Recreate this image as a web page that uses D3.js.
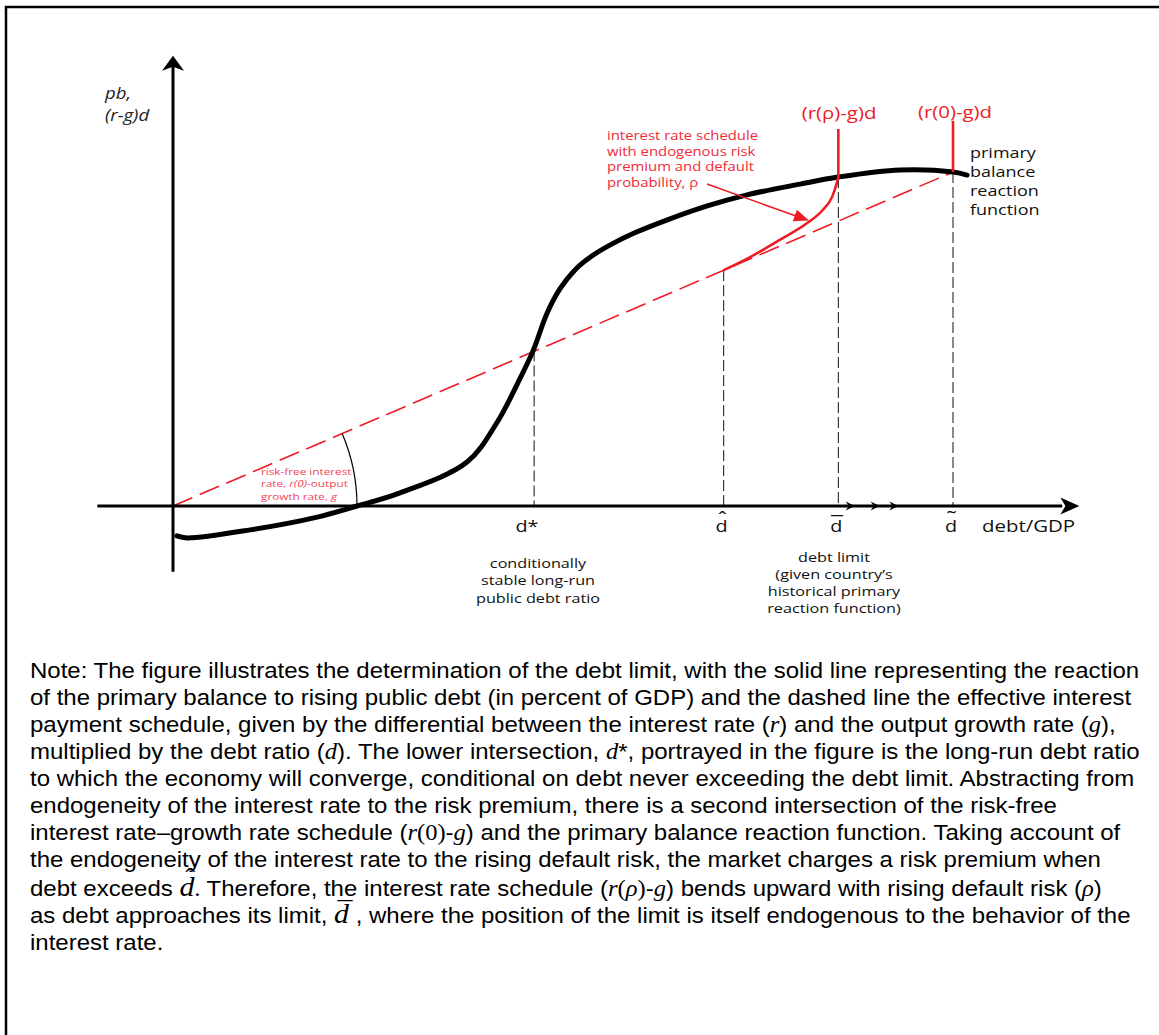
<!DOCTYPE html>
<html>
<head>
<meta charset="UTF-8">
<title>Debt limit</title>
<script src="https://cdn.jsdelivr.net/npm/d3@7/dist/d3.min.js"></script>
<style type="text/css">
body { margin: 0; background: #fff; }
svg { display: block; }
.lbl { font-family: "Open Sans", "Noto Sans", sans-serif; }
.note { font-family: "Liberation Sans", Arial, sans-serif; font-size: 22.5px; fill: #000; }
</style>
</head>
<body>
<div class="scalingContainer"></div>
<script>
// debt/GDP ratios marked on the axis (d~ = 100), and where the dashed drop lines start
var markX = [46.3, 70.6, 85.3, 100];
var markY = [46.3, 70.2, 97.9, 99.4];

// primary balance reaction function
var pbX = [0.5, 1.8, 9.9, 18.5, 23.6, 29.1, 37.7, 41.5, 44.2, 46.2, 47.9, 49.6, 51.5, 53.7, 56.3, 59.2, 63.3, 68.5, 73.6, 80.4, 85.3, 93.2, 100, 101.8];
var pbY = [-8.9, -9.5, -7.1, -3.3, 0, 3.9, 13.1, 24.7, 36.6, 46.4, 57.1, 64.6, 70.2, 74.4, 78.0, 81.3, 85.1, 89.3, 92.6, 95.8, 97.9, 100, 99.4, 98.5];

// risk-free schedule (r(0)-g)d
var r0X = [0, 100];
var r0Y = [0, 99.4];

// schedule with endogenous risk premium (r(rho)-g)d
var rhoX = [70.6, 74.0, 77.8, 81.3, 83.3, 84.5, 85.1, 85.3];
var rhoY = [70.2, 74.1, 79.2, 84.2, 88.1, 92.0, 96.1, 97.9];

// vertical ends of the two schedules
var spikeX = [85.3, 100];
var spikeLo = [97.9, 99.4];
var spikeHi = [112.2, 114.6];

// little arrows on the axis past the limit
var flowX = [87.4, 90.6, 93.0];

var W = 1159, H = 1035, SX = 1.2;
var RED = "#ed1c24", TRED = "#ef2b38";

var svg = d3.select(".scalingContainer").append("svg")
    .attr("width", W)
    .attr("height", H);

var x = d3.scaleLinear().domain([0, 100]).range([173, 953]);
var y = d3.scaleLinear().domain([0, 100]).range([506, 170]);

// frame
svg.append("path")
    .attr("d", "M6," + H + " V7 H" + W)
    .attr("fill", "none")
    .attr("stroke", "#000")
    .attr("stroke-width", 2.5);

function zip(a, b) { return a.map(function (v, i) { return [v, b[i]]; }); }

var line = d3.line().x(function (d) { return x(d[0]); }).y(function (d) { return y(d[1]); });

// dashed drop lines
svg.selectAll(".drop")
    .data(markX)
    .enter()
    .append("line")
    .attr("class", "drop")
    .attr("x1", function (d) { return x(d); })
    .attr("x2", function (d) { return x(d); })
    .attr("y1", function (d, i) { return y(markY[i]); })
    .attr("y2", y(0))
    .attr("stroke", "#111")
    .attr("stroke-width", 1)
    .attr("stroke-dasharray", "11,4");

// risk-free line
svg.append("path")
    .attr("d", line(zip(r0X, r0Y)))
    .attr("fill", "none")
    .attr("stroke", RED)
    .attr("stroke-width", 1.6)
    .attr("stroke-dasharray", "21,8");

// axes
function head(tx, ty, ang, len, half, notch, color) {
    svg.append("path")
        .attr("d", "M0,0 L" + (-len) + "," + (-half) + " L" + (-notch) + ",0 L" + (-len) + "," + half + " Z")
        .attr("transform", "translate(" + tx + "," + ty + ") rotate(" + ang + ")")
        .attr("fill", color || "#000");
}

svg.append("line")
    .attr("x1", x(-9.7)).attr("x2", x(114))
    .attr("y1", y(0)).attr("y2", y(0))
    .attr("stroke", "#000").attr("stroke-width", 3);
head(x(116.2), y(0), 0, 19, 8.5, 14);

svg.append("line")
    .attr("x1", x(0)).attr("x2", x(0))
    .attr("y1", y(-19.6)).attr("y2", y(131))
    .attr("stroke", "#000").attr("stroke-width", 3);
head(x(0), y(134), -90, 15, 11, 11);

flowX.forEach(function (f) { head(x(f), y(0), 0, 9, 4.5, 6); });

// primary balance reaction function
svg.append("path")
    .attr("d", line.curve(d3.curveCatmullRom.alpha(0.5))(zip(pbX, pbY)))
    .attr("fill", "none")
    .attr("stroke", "#000")
    .attr("stroke-width", 5)
    .attr("stroke-linecap", "round");

// r(rho)-g schedule
svg.append("path")
    .attr("d", line.curve(d3.curveMonotoneX)(zip(rhoX, rhoY)))
    .attr("fill", "none")
    .attr("stroke", RED)
    .attr("stroke-width", 2.6);

svg.selectAll(".spike")
    .data(spikeX)
    .enter()
    .append("line")
    .attr("x1", function (d) { return x(d); })
    .attr("x2", function (d) { return x(d); })
    .attr("y1", function (d, i) { return y(spikeLo[i]); })
    .attr("y2", function (d, i) { return y(spikeHi[i]); })
    .attr("stroke", RED)
    .attr("stroke-width", 2.6);

// angle arc for the slope r(0)-g
var theta = Math.atan2(y(0) - y(r0Y[1]), x(r0X[1]) - x(0));
var ap = d3.path();
ap.arc(x(0), y(0), 184, -theta, 0);
svg.append("path")
    .attr("d", ap.toString())
    .attr("fill", "none")
    .attr("stroke", "#000")
    .attr("stroke-width", 1.2);

// pointer to the risk premium schedule
svg.append("line")
    .attr("x1", 707).attr("y1", 184)
    .attr("x2", 796).attr("y2", 216)
    .attr("stroke", RED).attr("stroke-width", 1.6);
head(809, 220.5, 19.5, 15, 6, 15, RED);

// labels
function label(px, py, lines, o) {
    var t = svg.append("text")
        .attr("class", "lbl")
        .attr("transform", "translate(" + px + "," + py + ") scale(" + SX + ",1)")
        .attr("font-size", o.size)
        .attr("fill", o.color || "#111")
        .attr("text-anchor", o.anchor || "start");
    lines.forEach(function (ln, i) {
        var segs = typeof ln === "string" ? [[ln, false]] : ln;
        segs.forEach(function (s, j) {
            var ts = t.append("tspan").text(s[0]);
            if (j === 0) ts.attr("x", 0).attr("dy", i === 0 ? 0 : o.lh);
            if (s[1]) ts.attr("font-style", "italic");
        });
    });
    return t;
}

label(105, 99, [[["pb,", true]], [["(r-g)d", true]]], { size: 15.5, lh: 22, color: "#222" });
label(839, 119, ["(r(\u03c1)-g)d"], { size: 17, color: RED, anchor: "middle" });
label(955, 118, ["(r(0)-g)d"], { size: 17, color: RED, anchor: "middle" });
label(607, 140, ["interest rate schedule", "with endogenous risk", "premium and default", "probability, \u03c1"],
    { size: 12.4, lh: 15.7, color: TRED });
label(970, 158, ["primary", "balance", "reaction", "function"], { size: 15, lh: 19 });
label(538, 568, ["conditionally", "stable long-run", "public debt ratio"], { size: 13.5, lh: 17.5, anchor: "middle" });
label(834, 562, ["debt limit", "(given country\u2019s", "historical primary", "reaction function)"],
    { size: 13.5, lh: 17, anchor: "middle" });
label(261, 475, ["risk-free interest", [["rate, ", false], ["r(0)", true], ["-output", false]], [["growth rate, ", false], ["g", true]]],
    { size: 9.8, lh: 12.5, color: "#f0455a" });

// axis marks: d with its accent in one text
label(527, 532, ["d*"], { size: 16.5, anchor: "middle" });
var accents = ["", "\u02c6", "\u00af", "\u02dc"];
var accentDy = [0, -6, 0, -6];
markX.forEach(function (m, i) {
    if (i === 0) return;
    var t = label(x(m) - 2, 532, ["d"], { size: 16.5, anchor: "middle" });
    t.append("tspan").attr("x", 0.5).attr("dy", accentDy[i]).attr("font-size", 20).text(accents[i]);
});
label(982, 532, ["debt/GDP"], { size: 17 });

// note
var noteLines = [
    [["Note: The figure illustrates the determination of the debt limit, with the solid line representing the reaction", "n"]],
    [["of the primary balance to rising public debt (in percent of GDP) and the dashed line the effective interest", "n"]],
    [["payment schedule, given by the differential between the interest rate (", "n"], ["r", "i"], [") and the output growth rate (", "n"], ["g", "i"], ["),", "n"]],
    [["multiplied by the debt ratio (", "n"], ["d", "i"], ["). The lower intersection, ", "n"], ["d", "i"], ["*", "n"], [", portrayed in the figure is the long-run debt ratio", "n"]],
    [["to which the economy will converge, conditional on debt never exceeding the debt limit. Abstracting from", "n"]],
    [["endogeneity of the interest rate to the risk premium, there is a second intersection of the risk-free", "n"]],
    [["interest rate\u2013growth rate schedule (", "n"], ["r", "i"], ["(0)", "s"], ["-", "n"], ["g", "i"], [") and the primary balance reaction function. Taking account of", "n"]],
    [["the endogeneity of the interest rate to the rising default risk, the market charges a risk premium when", "n"]],
    [["debt exceeds ", "n"], ["d", "D"], [". ", "s"], ["Therefore, the interest rate schedule (", "n"], ["r", "i"], ["(", "s"], ["\u03c1", "i"], [")", "s"], ["-", "n"], ["g", "i"], [") bends upward with rising default risk (", "n"], ["\u03c1", "i"], [")", "n"]],
    [["as debt approaches its limit, ", "n"], ["d", "D"], [" , where the position of the limit is itself endogenous to the behavior of the", "n"]],
    [["interest rate.", "n"]]
];
// accent drawn over the big italic d on those two rows
var noteAccent = { 8: "\u02c6", 9: "\u00af" };
var noteAccentDy = { 8: -9, 9: -2 };
var noteY = [678, 705, 732, 759, 786, 813, 840, 867, 896, 923, 950];

var noteG = svg.append("g").attr("class", "note");
var rows = noteLines.map(function (ln, i) {
    var t = noteG.append("text").attr("x", 0).attr("y", noteY[i]);
    ln.forEach(function (s) {
        var ts = t.append("tspan").text(s[0]);
        var k = s[1];
        if (k === "i" || k === "s") ts.attr("font-family", "Liberation Serif, serif").attr("font-size", 23);
        if (k === "i") ts.attr("font-style", "italic");
        if (k === "D") ts.attr("font-family", "Liberation Serif, serif").attr("font-style", "italic").attr("font-size", 28);
    });
    return t;
});

rows.forEach(function (t, i) {
    if (!noteAccent[i]) return;
    var before = 0, mid = 0, found = false;
    t.selectAll("tspan").each(function (d, j) {
        if (found) return;
        var len = this.getComputedTextLength();
        if (noteLines[i][j][1] === "D") { mid = before + len / 2; found = true; }
        else before += len;
    });
    noteG.append("text")
        .attr("x", mid + 3)
        .attr("y", noteY[i] + noteAccentDy[i])
        .attr("text-anchor", "middle")
        .attr("font-family", "Liberation Serif, serif")
        .attr("font-size", 28)
        .text(noteAccent[i]);
});

// stretch the note to the figure width, as in the original page
var kx = 1110 / rows[0].node().getComputedTextLength();
noteG.attr("transform", "translate(30,0) scale(" + kx + ",1)");
</script>
</body>
</html>
